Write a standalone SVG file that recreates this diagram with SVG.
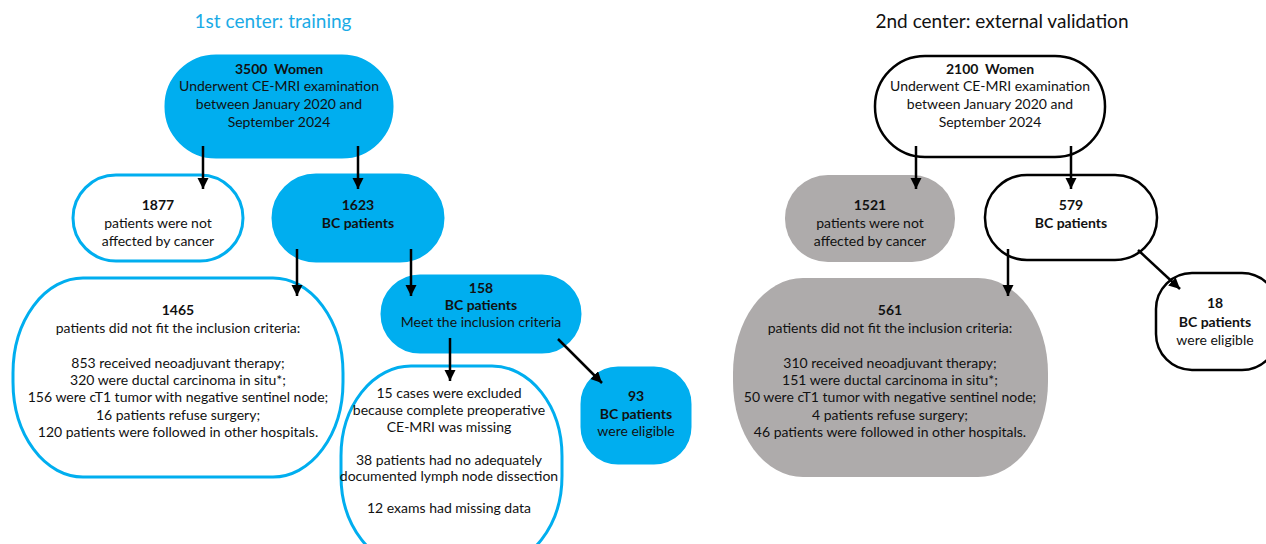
<svg xmlns="http://www.w3.org/2000/svg" width="1266" height="544" viewBox="0 0 1266 544">
<style>
text{font-family:Lato,"Liberation Sans",sans-serif;font-size:14px;fill:#111;text-anchor:middle}
.b{font-weight:700}
.title{font-size:19px}
.cf{fill:#00aeef;stroke:#00aeef;stroke-width:3}
.co{fill:#fff;stroke:#00aeef;stroke-width:3}
.kf{fill:#aeabab;stroke:none}
.ko{fill:#fff;stroke:#000;stroke-width:2.5}
.arr{stroke:#000;stroke-width:2.5;fill:none;marker-end:url(#ah)}
</style>
<defs>
<marker id="ah" markerUnits="userSpaceOnUse" markerWidth="12" markerHeight="12" refX="11" refY="5.5" orient="auto">
<path d="M0,0 L11,5.5 L0,11 z" fill="#000"/>
</marker>
</defs>
<rect width="1266" height="544" fill="#fff"/>
<text class="title" x="273" y="28" style="fill:#1aabe6">1st center: training</text>
<text class="title" x="1002" y="28">2nd center: external validation</text>

<g id="n3500">
<rect class="cf" x="166" y="56" width="226" height="101" rx="50" ry="50"/>
<text class="b" x="279" y="74">3500&#160; Women</text>
<text x="279" y="91">Underwent CE-MRI examination</text>
<text x="279" y="109">between January 2020 and</text>
<text x="279" y="127">September 2024</text>
</g>
<g id="n1877">
<rect class="co" x="73" y="175" width="170" height="86" rx="43" ry="43"/>
<text class="b" x="158" y="210">1877</text>
<text x="158" y="228">patients were not</text>
<text x="158" y="246">affected by cancer</text>
</g>
<g id="n1623">
<rect class="cf" x="273" y="175" width="170" height="86" rx="43" ry="43"/>
<text class="b" x="358" y="210">1623</text>
<text class="b" x="358" y="228">BC patients</text>
</g>
<g id="n1465">
<rect class="co" x="13" y="278" width="330" height="199" rx="70" ry="95"/>
<text class="b" x="178" y="315">1465</text>
<text x="178" y="333">patients did not fit the inclusion criteria:</text>
<text x="178" y="368">853 received neoadjuvant therapy;</text>
<text x="178" y="385">320 were ductal carcinoma in situ*;</text>
<text x="178" y="402">156 were cT1 tumor with negative sentinel node;</text>
<text x="178" y="420">16 patients refuse surgery;</text>
<text x="178" y="437">120 patients were followed in other hospitals.</text>
</g>
<g id="n158">
<rect class="cf" x="382" y="276" width="198" height="76" rx="38" ry="38"/>
<text class="b" x="481" y="293">158</text>
<text class="b" x="481" y="310">BC patients</text>
<text x="481" y="327">Meet the inclusion criteria</text>
</g>
<g id="nexcl">
<rect class="co" x="341" y="366" width="221" height="200" rx="70" ry="90"/>
<text x="449" y="398">15 cases were excluded</text>
<text x="449" y="415">because complete preoperative</text>
<text x="449" y="432">CE-MRI was missing</text>
<text x="449" y="465">38 patients had no adequately</text>
<text x="449" y="481">documented lymph node dissection</text>
<text x="449" y="513">12 exams had missing data</text>
</g>
<g id="n93">
<rect class="cf" x="582" y="368" width="108" height="95" rx="36" ry="36"/>
<text class="b" x="636" y="401">93</text>
<text class="b" x="636" y="419">BC patients</text>
<text x="636" y="436">were eligible</text>
</g>

<g id="n2100">
<rect class="ko" x="875" y="56" width="230" height="101" rx="50" ry="50"/>
<text class="b" x="990" y="74">2100&#160; Women</text>
<text x="990" y="91">Underwent CE-MRI examination</text>
<text x="990" y="109">between January 2020 and</text>
<text x="990" y="127">September 2024</text>
</g>
<g id="n1521">
<rect class="kf" x="785" y="175" width="170" height="87" rx="43" ry="43"/>
<text class="b" x="870" y="210">1521</text>
<text x="870" y="228">patients were not</text>
<text x="870" y="246">affected by cancer</text>
</g>
<g id="n579">
<rect class="ko" x="985" y="175" width="172" height="85" rx="42" ry="42"/>
<text class="b" x="1071" y="210">579</text>
<text class="b" x="1071" y="228">BC patients</text>
</g>
<g id="n561">
<rect class="kf" x="733" y="278" width="315" height="199" rx="70" ry="95"/>
<text class="b" x="890" y="315">561</text>
<text x="890" y="333">patients did not fit the inclusion criteria:</text>
<text x="890" y="368">310 received neoadjuvant therapy;</text>
<text x="890" y="385">151 were ductal carcinoma in situ*;</text>
<text x="890" y="402">50 were cT1 tumor with negative sentinel node;</text>
<text x="890" y="420">4 patients refuse surgery;</text>
<text x="890" y="437">46 patients were followed in other hospitals.</text>
</g>
<g id="n18">
<rect class="ko" x="1156" y="273" width="122" height="97" rx="36" ry="36"/>
<text class="b" x="1215" y="308">18</text>
<text class="b" x="1215" y="327">BC patients</text>
<text x="1215" y="345">were eligible</text>
</g>

<g id="connectors">
<line class="arr" x1="203" y1="146" x2="203" y2="189"/>
<line class="arr" x1="358" y1="146" x2="358" y2="189"/>
<line class="arr" x1="297" y1="249" x2="297" y2="296"/>
<line class="arr" x1="411" y1="249" x2="411" y2="296"/>
<line class="arr" x1="450" y1="338" x2="450" y2="381"/>
<line class="arr" x1="558" y1="339" x2="602" y2="383"/>
<line class="arr" x1="916" y1="146" x2="916" y2="189"/>
<line class="arr" x1="1071" y1="146" x2="1071" y2="189"/>
<line class="arr" x1="1008" y1="249" x2="1008" y2="296"/>
<line class="arr" x1="1138" y1="250" x2="1180" y2="289"/>
</g>
</svg>
